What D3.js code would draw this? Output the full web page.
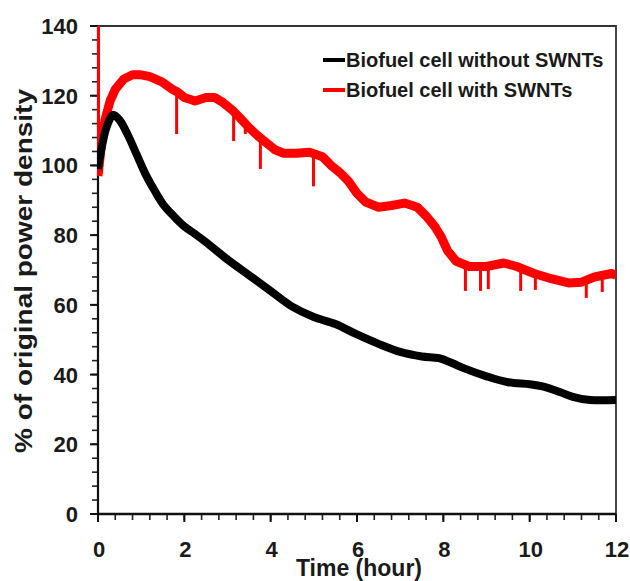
<!DOCTYPE html>
<html>
<head>
<meta charset="utf-8">
<script src="https://cdn.jsdelivr.net/npm/d3@7"></script>
<style>
  html, body { margin: 0; padding: 0; background: #fff; }
  svg { display: block; }
  text { font-family: "Liberation Sans", Arial, sans-serif; font-weight: bold; fill: #1a1a1a; }
</style>
</head>
<body>
<svg id="chart" width="630" height="581"></svg>
<script>
// Power density retention over time (hours, % of original)
const xTicks = [0, 2, 4, 6, 8, 10, 12];
const yTicks = [0, 20, 40, 60, 80, 100, 120, 140];

const seriesNames = ["Biofuel cell without SWNTs", "Biofuel cell with SWNTs"];
const seriesColors = ["#000000", "#ff0000"];

// Cell without SWNTs: [time, %]
const withoutSWNT = [
  [0, 99], [0.1, 106], [0.2, 111], [0.35, 114.5], [0.5, 113], [0.7, 108.5],
  [0.9, 103], [1.1, 97.5], [1.3, 93], [1.5, 89], [1.75, 85.5], [2.0, 82.5],
  [2.25, 80.3], [2.5, 78], [3.0, 73], [3.5, 68.5], [4.0, 64], [4.5, 59.5],
  [5.0, 56.5], [5.5, 54.5], [6.0, 51.5], [6.5, 48.8], [7.0, 46.5], [7.5, 45.2],
  [7.9, 44.7], [8.2, 43.3], [8.5, 41.7], [9.0, 39.5], [9.5, 37.8], [10.0, 37.2],
  [10.3, 36.6], [10.7, 35], [11.0, 33.6], [11.4, 32.7], [12, 32.7]
];

// Cell with SWNTs: [time, %]
const withSWNT = [
  [0, 97], [0.08, 106], [0.16, 113], [0.28, 118.5], [0.4, 121.8],
  [0.6, 124.8], [0.8, 126], [1.0, 126], [1.2, 125.5], [1.48, 124], [1.7, 122],
  [1.85, 121], [2.0, 119.5], [2.25, 118.5], [2.5, 119.5], [2.7, 119.5], [2.9, 118],
  [3.1, 116], [3.3, 113.5], [3.5, 110.8], [3.7, 108.5], [3.9, 106.5], [4.1, 104.5],
  [4.3, 103.5], [4.6, 103.5], [4.9, 103.8], [5.2, 102.5], [5.4, 100], [5.6, 98],
  [5.8, 95.5], [6.0, 92], [6.2, 89.5], [6.5, 88], [6.8, 88.5], [7.1, 89.2],
  [7.4, 88], [7.6, 85.5], [7.8, 82.5], [7.95, 79.5], [8.1, 75.5], [8.3, 72.5],
  [8.6, 71], [9.0, 71], [9.4, 72], [9.7, 71], [10.1, 69], [10.5, 67.5],
  [10.9, 66.3], [11.2, 66.5], [11.5, 68], [11.9, 69], [12, 68.5]
];

// Brief excursions in the SWNT trace: [time, extreme %]
const withSWNTSpikes = [
  [0, 140],
  [1.81, 109], [3.13, 107], [3.4, 109], [3.75, 99], [4.98, 94],
  [8.5, 64], [8.85, 64], [9.03, 64.5], [9.78, 64], [10.12, 64.3],
  [11.3, 62], [11.67, 63.7]
];

const svg = d3.select("#chart");
const mLeft = 98, mRight = 616, mTop = 26, mBottom = 514;

const x = d3.scaleLinear().domain([0, 12]).range([mLeft, mRight]);
const y = d3.scaleLinear().domain([0, 140]).range([mBottom, mTop]);

svg.append("defs").append("clipPath").attr("id", "plot-area")
  .append("rect")
  .attr("x", mLeft - 1).attr("y", mTop)
  .attr("width", mRight - mLeft + 1).attr("height", mBottom - mTop);

// frame (top and right)
svg.append("path")
  .attr("d", `M${mLeft},${mTop}H${mRight}V${mBottom}`)
  .attr("fill", "none").attr("stroke", "#333").attr("stroke-width", 1.8);

// minor ticks
const yMinor = d3.range(0, 141, 4);
const xMinor = d3.range(0, 12.01, 0.4).map(v => +v.toFixed(2));

const gy = svg.append("g");
gy.selectAll("line.minor").data(yMinor).join("line")
  .attr("x1", mLeft - 6).attr("x2", mLeft)
  .attr("y1", d => y(d)).attr("y2", d => y(d))
  .attr("stroke", "#222").attr("stroke-width", 1.6);
gy.selectAll("line.major").data(yTicks).join("line")
  .attr("x1", mLeft - 8).attr("x2", mLeft)
  .attr("y1", d => y(d)).attr("y2", d => y(d))
  .attr("stroke", "#111").attr("stroke-width", 2);
gy.append("line").attr("x1", mLeft).attr("x2", mLeft).attr("y1", mTop).attr("y2", mBottom)
  .attr("stroke", "#111").attr("stroke-width", 2.2);
gy.selectAll("text").data(yTicks).join("text")
  .attr("x", mLeft - 20).attr("y", d => y(d) + 8)
  .attr("text-anchor", "end").attr("font-size", 22)
  .text(d => d);

const gx = svg.append("g");
gx.selectAll("line.minor").data(xMinor).join("line")
  .attr("y1", mBottom).attr("y2", mBottom + 6)
  .attr("x1", d => x(d)).attr("x2", d => x(d))
  .attr("stroke", "#222").attr("stroke-width", 1.6);
gx.selectAll("line.major").data(xTicks).join("line")
  .attr("y1", mBottom).attr("y2", mBottom + 8)
  .attr("x1", d => x(d)).attr("x2", d => x(d))
  .attr("stroke", "#111").attr("stroke-width", 2);
gx.append("line").attr("x1", mLeft).attr("x2", mRight).attr("y1", mBottom).attr("y2", mBottom)
  .attr("stroke", "#111").attr("stroke-width", 2.6);
gx.selectAll("text").data(xTicks).join("text")
  .attr("x", d => x(d) + 1).attr("y", 557)
  .attr("text-anchor", "middle").attr("font-size", 22)
  .text(d => d);

// axis titles
svg.append("text")
  .attr("x", 359).attr("y", 576)
  .attr("text-anchor", "middle").attr("font-size", 23)
  .text("Time (hour)");

svg.append("text")
  .attr("transform", "translate(32,271) scale(0.86,1) rotate(-90)")
  .attr("text-anchor", "middle").attr("font-size", 28)
  .text("% of original power density");

// traces
const plot = svg.append("g").attr("clip-path", "url(#plot-area)");
const line = d3.line().x(d => x(d[0])).y(d => y(d[1]));

plot.append("path").datum(withSWNT)
  .attr("d", line)
  .attr("fill", "none").attr("stroke", seriesColors[1])
  .attr("stroke-width", 9).attr("stroke-linejoin", "round");

const redAt = t => {
  const i = Math.min(withSWNT.length - 1, Math.max(1, d3.bisector(d => d[0]).right(withSWNT, t)));
  const a = withSWNT[i - 1], b = withSWNT[i];
  const f = Math.max(0, Math.min(1, (t - a[0]) / (b[0] - a[0])));
  return a[1] + f * (b[1] - a[1]);
};
plot.selectAll("line.spike").data(withSWNTSpikes).join("line")
  .attr("x1", d => x(d[0]) + 0.5).attr("x2", d => x(d[0]) + 0.5)
  .attr("y1", d => y(redAt(d[0]))).attr("y2", d => y(d[1]))
  .attr("stroke", seriesColors[1]).attr("stroke-width", 3);

plot.append("path").datum(withoutSWNT)
  .attr("d", line.curve(d3.curveCatmullRom))
  .attr("fill", "none").attr("stroke", seriesColors[0])
  .attr("stroke-width", 8).attr("stroke-linejoin", "round");

// legend
const legend = svg.append("g");
seriesNames.forEach((name, i) => {
  const ly = 60 + i * 30;
  legend.append("line")
    .attr("x1", 323).attr("x2", 345).attr("y1", ly).attr("y2", ly)
    .attr("stroke", seriesColors[i]).attr("stroke-width", 4);
  legend.append("text")
    .attr("x", 346).attr("y", ly + 7)
    .attr("font-size", 20)
    .text(name);
});
</script>
</body>
</html>
